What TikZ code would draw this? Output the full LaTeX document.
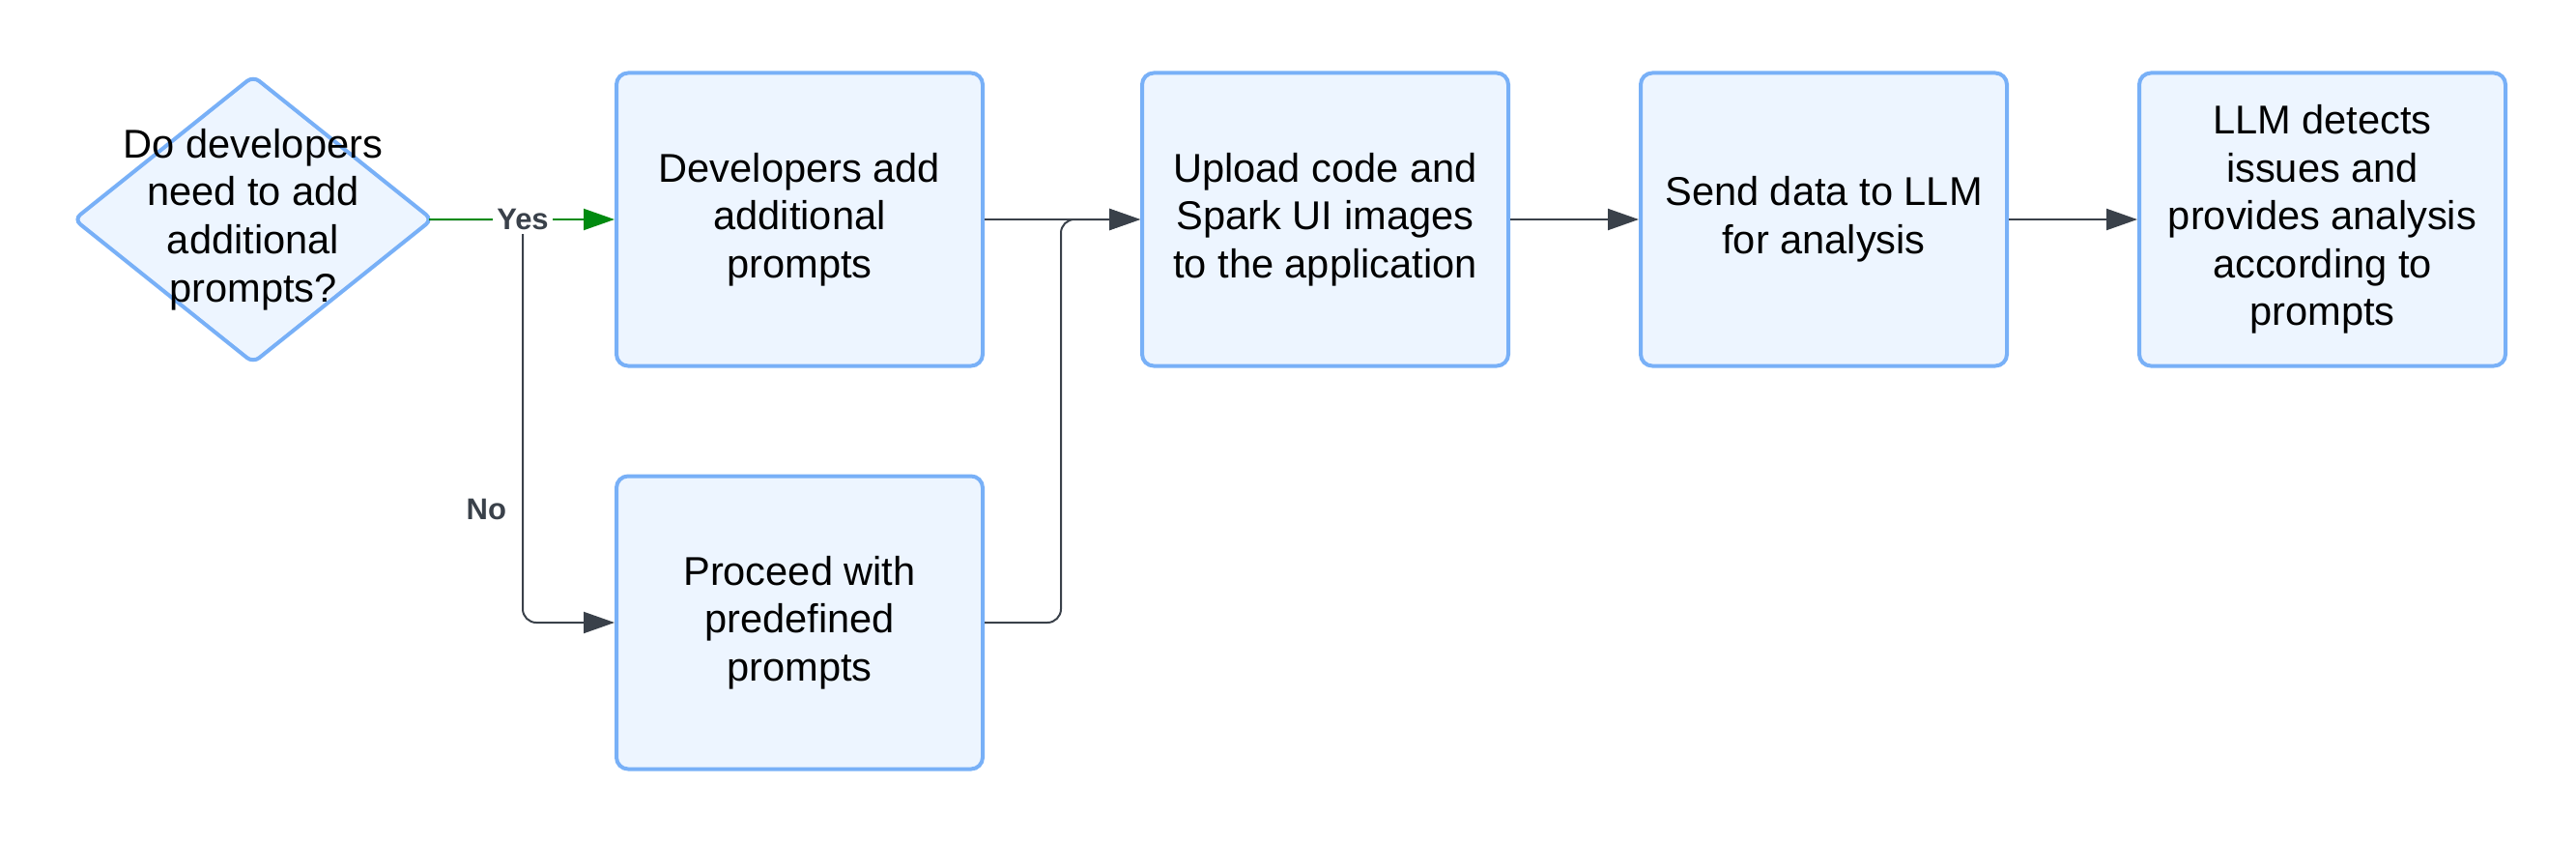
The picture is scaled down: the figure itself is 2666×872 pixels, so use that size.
\documentclass[tikz,border=0pt]{standalone}
\usepackage{fontspec}
\setmainfont{Liberation Sans}
\usetikzlibrary{arrows.meta,shapes,positioning}
\definecolor{boxfill}{RGB}{237,245,255}
\definecolor{boxline}{RGB}{120,176,247}
\definecolor{linegray}{RGB}{58,65,74}
\definecolor{yesgreen}{RGB}{0,138,16}

\begin{document}
\begin{tikzpicture}[->,>={Triangle[length=16pt,width=11pt]},x=0.5pt,y=-0.5pt,
                    node distance=57pt]
\tikzstyle{proc}=[rectangle,rounded corners=6pt,line width=2pt,draw=boxline,fill=boxfill,
                  minimum width=189.5pt,minimum height=151.5pt,align=center,
                  font=\fontsize{20.8}{24.8}\selectfont]
\tikzstyle{dec}=[diamond,rounded corners=4pt,line width=2pt,draw=boxline,fill=boxfill,
                 minimum width=186pt,minimum height=149pt,inner sep=0pt]
\tikzstyle{conn}=[draw=linegray,line width=1pt]
\tikzstyle{lbl}=[font=\fontsize{15.5}{18}\selectfont\bfseries,text=linegray,inner sep=2pt]
\useasboundingbox (0,0) rectangle (2666,872);
% decision
\node[dec] (question) at (262,227) {};
\node[align=center,font=\fontsize{20.8}{24.8}\selectfont] (qtext) at (question) {Do developers\\ need to add\\ additional\\ prompts?};
% steps
\node[proc](addprompts)[right=93pt of question] {Developers add\\ additional\\ prompts};
\node[proc](predef)[below=55pt of addprompts] {Proceed with\\ predefined\\ prompts};
\node[proc](upload)[right=80.5pt of addprompts] {Upload code and\\ Spark UI images\\ to the application};
\node[proc](send)[right=66.5pt of upload] {Send data to LLM\\ for analysis};
\node[proc](detect)[right=66.5pt of send] {LLM detects\\ issues and\\ provides analysis\\ according to\\ prompts};
\coordinate (split) at (541,227);
\coordinate (merge) at (1098,227);
% connectors
\draw[conn,rounded corners=7pt,shorten <=-3pt] (question.east) -- (split) |- node[lbl,left=6pt,pos=0.36] (no) {No} (predef.west);
\draw[conn,draw=yesgreen,shorten <=-3pt] (question.east) -- (addprompts.west);
\node[lbl,fill=white] (yes) at (split) {Yes};
\draw[conn] (addprompts.east) -- (upload.west);
\draw[conn,rounded corners=7pt] (predef.east) -| (merge) -- (upload.west);
\draw[conn] (upload.east) -- (send.west);
\draw[conn] (send.east) -- (detect.west);
\end{tikzpicture}
\end{document}
